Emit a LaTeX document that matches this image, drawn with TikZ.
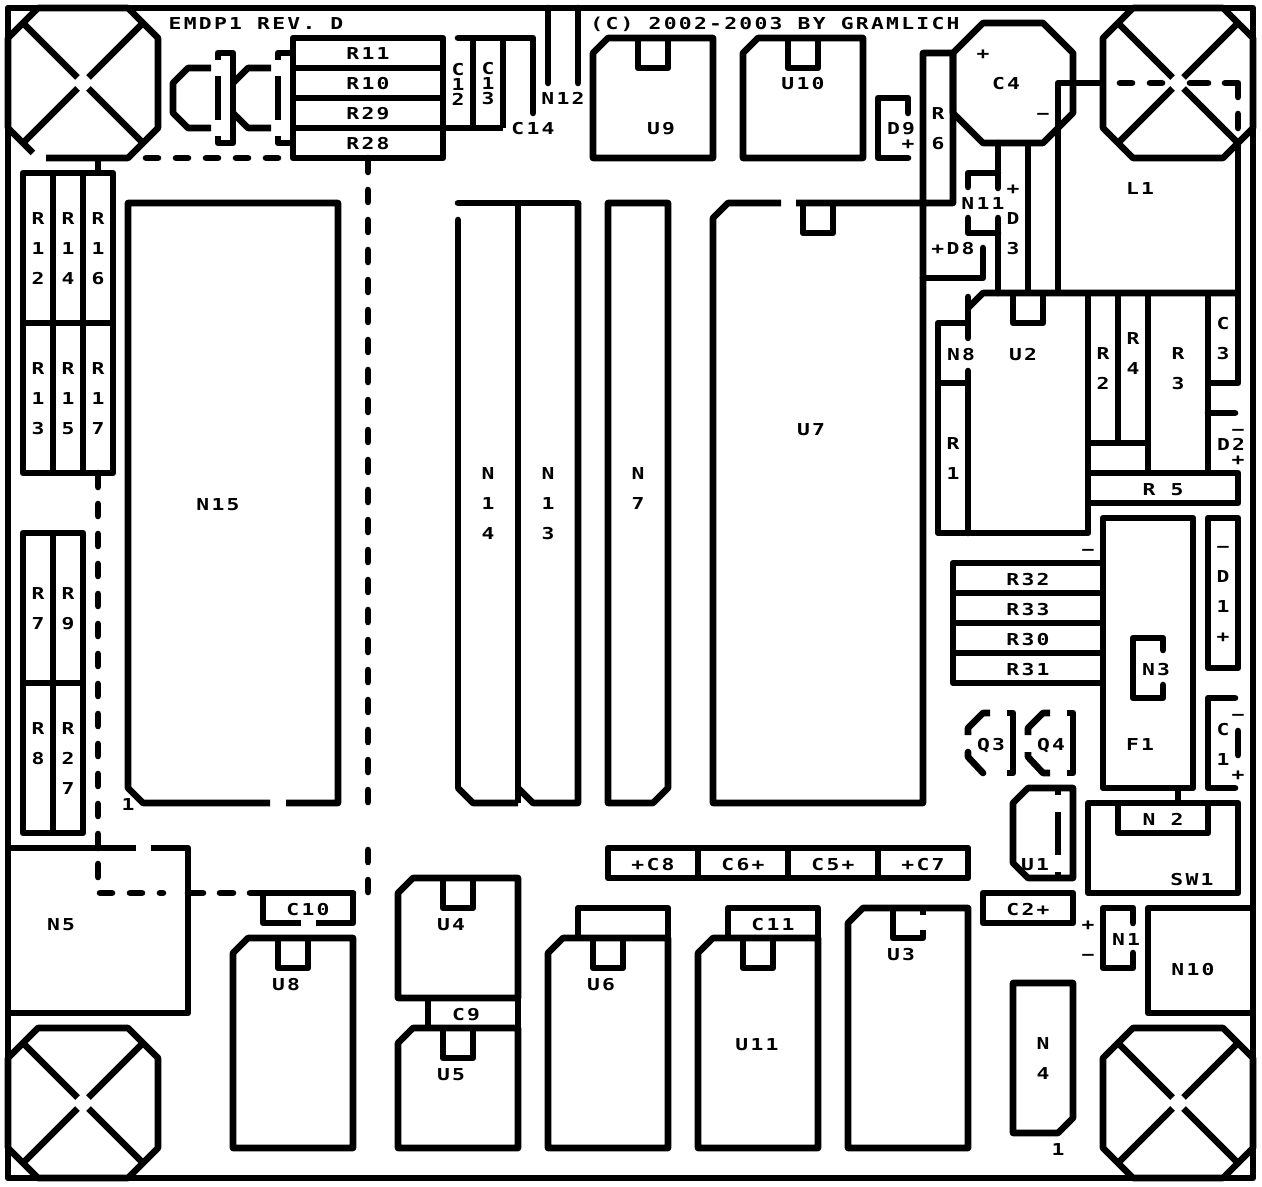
\documentclass[tikz,border=0pt]{standalone}
\usepackage{fontspec}
\newfontfamily\pcbfont[FakeStretch=1.3,LetterSpace=14]{DejaVu Sans Mono}
\tikzset{
  trace/.style={line width=3.3pt,line join=round},
  stub/.style={trace,line cap=round},
  dashline/.style={stub,dash pattern=on 6pt off 9pt},
  arm/.style={line width=3.3pt},
  lbl/.style={inner sep=0pt,yshift=-0.5pt,text height=6pt,text depth=0pt,font=\pcbfont\bfseries\fontsize{8.2}{15}\selectfont},
  lblv/.style={inner sep=0pt,yshift=-0.5pt,align=center,font=\pcbfont\bfseries\fontsize{8.2}{15}\selectfont},
  lblt/.style={inner sep=0pt,yshift=-0.5pt,align=center,font=\pcbfont\bfseries\fontsize{8.2}{7.5}\selectfont}
}
\begin{document}
\begin{tikzpicture}[x=0.5pt,y=-0.5pt]
\useasboundingbox (0,0) rectangle (1262,1187);
% board
\draw[trace] (8,8) rectangle (1253,1178);
% mounting holes
\foreach \cx/\cy in {83/83,1178/83,83/1103,1178/1103}
  \foreach \sx/\sy in {1/1,1/-1,-1/1,-1/-1}
    \draw[arm] ({\cx+60*\sx},{\cy+60*\sy}) -- ({\cx+5.5*\sx},{\cy+5.5*\sy});
\foreach \cx/\cy in {1178/83,83/1103,1178/1103}
  \draw[trace] (\cx-45,\cy-75) -- (\cx+45,\cy-75) -- (\cx+75,\cy-45) -- (\cx+75,\cy+45)
    -- (\cx+45,\cy+75) -- (\cx-45,\cy+75) -- (\cx-75,\cy+45) -- (\cx-75,\cy-45) -- cycle;
\draw[trace] (33,153) -- (8,128) -- (8,38) -- (38,8) -- (128,8) -- (158,38) -- (158,128) -- (128,158) -- (46,158);
% LED
\draw[trace] (211,68) -- (188,68) -- (173,83) -- (173,113) -- (188,128) -- (211,128);
\draw[trace] (218,60) -- (218,53) -- (233,53) -- (233,143) -- (218,143) -- (218,136);
\draw[trace] (218,76) -- (218,120);
\draw[trace] (233,83) -- (248,68) -- (271,68);
\draw[trace] (233,113) -- (248,128) -- (271,128);
\draw[trace] (278,60) -- (278,53) -- (293,53);
\draw[trace] (278,76) -- (278,120);
\draw[trace] (278,136) -- (278,143) -- (293,143);
% top row
\draw[trace] (293,38) rectangle (443,158);
\draw[trace] (293,68) -- (443,68);
\draw[trace] (293,98) -- (443,98);
\draw[trace] (293,128) -- (503,128);
\draw[stub] (533,113) -- (533,38) -- (458,38);
\draw[trace] (473,38) -- (473,128);
\draw[trace] (503,38) -- (503,128);
\draw[stub] (548,8) -- (548,83);
\draw[stub] (578,8) -- (578,83);
\draw[trace] (593,53) -- (608,38) -- (713,38) -- (713,158) -- (593,158) -- cycle;
\draw[trace] (638,38) -- (638,68) -- (668,68) -- (668,38);
\draw[trace] (743,53) -- (758,38) -- (863,38) -- (863,158) -- (743,158) -- cycle;
\draw[trace] (788,38) -- (788,68) -- (818,68) -- (818,38);
\draw[stub] (908,113) -- (908,98) -- (878,98) -- (878,158) -- (908,158);
% dashed outlines
\draw[dashline] (146,158) -- (278,158);
\draw[stub] (368,158) -- (368,172);
\draw[dashline] (368,190) -- (368,802);
\draw[dashline] (368,850) -- (368,892);
\draw[stub] (98,473) -- (98,487);
\draw[dashline] (98,504) -- (98,817);
\draw[stub] (98,834) -- (98,848);
\draw[stub] (98,864) -- (98,877);
\draw[dashline] (100,893) -- (163,893);
\draw[stub] (188,893) -- (203,893);
\draw[stub] (220,893) -- (233,893);
\draw[stub] (250,893) -- (353,893);
% resistor blocks
\draw[trace] (98,158) -- (98,173);
\draw[trace] (23,173) rectangle (113,473);
\draw[trace] (53,173) -- (53,473);
\draw[trace] (83,173) -- (83,473);
\draw[trace] (23,323) -- (113,323);
\draw[trace] (23,533) rectangle (83,833);
\draw[trace] (53,533) -- (53,833);
\draw[trace] (23,683) -- (83,683);
% connectors
\draw[trace] (270,803) -- (143,803) -- (128,788) -- (128,203) -- (338,203) -- (338,803) -- (286,803);
\draw[stub] (458,203) -- (578,203);
\draw[stub] (458,220) -- (458,788);
\draw[trace] (458,788) -- (473,803) -- (518,803);
\draw[trace] (518,203) -- (518,803);
\draw[trace] (518,788) -- (533,803) -- (578,803) -- (578,203);
\draw[trace] (608,203) -- (668,203) -- (668,788) -- (653,803) -- (608,803) -- cycle;
% U7 and power section
\draw[trace] (781,203) -- (728,203) -- (713,218) -- (713,803) -- (923,803) -- (923,53) -- (953,53) -- (953,203) -- (796,203);
\draw[trace] (803,203) -- (803,233) -- (833,233) -- (833,203);
\draw[trace] (983,23) -- (1043,23) -- (1073,53) -- (1073,113) -- (1043,143) -- (983,143) -- (953,113) -- (953,53) -- cycle;
\draw[stub] (923,278) -- (983,278) -- (983,248);
\draw[stub] (968,187) -- (968,173) -- (998,173);
\draw[stub] (998,143) -- (998,188);
\draw[stub] (968,218) -- (968,233) -- (998,233);
\draw[stub] (998,218) -- (998,293);
\draw[trace] (1028,143) -- (1028,293);
\draw[trace] (1058,293) -- (1058,83) -- (1103,83);
\draw[dashline] (1120,83) -- (1163,83);
\draw[stub] (1190,83) -- (1208,83);
\draw[stub] (1225,83) -- (1238,83) -- (1238,97);
\draw[stub] (1238,114) -- (1238,128);
\draw[trace] (1238,143) -- (1238,383) -- (1208,383);
\draw[trace] (968,308) -- (983,293) -- (1238,293);
\draw[stub] (968,297) -- (968,338);
\draw[trace] (968,323) -- (938,323) -- (938,533) -- (1088,533) -- (1088,293);
\draw[stub] (968,371) -- (968,533);
\draw[trace] (938,383) -- (968,383);
\draw[trace] (1013,293) -- (1013,323) -- (1043,323) -- (1043,293);
\draw[trace] (1118,293) -- (1118,443);
\draw[trace] (1088,443) -- (1148,443);
\draw[trace] (1148,293) -- (1148,473);
\draw[trace] (1208,293) -- (1208,473);
\draw[stub] (1208,413) -- (1235,413);
\draw[trace] (1088,473) -- (1238,473) -- (1238,503) -- (1088,503);
% fuse and right column
\draw[trace] (1103,518) rectangle (1193,788);
\draw[trace] (1208,518) rectangle (1238,668);
\draw[trace] (953,563) rectangle (1103,683);
\draw[trace] (953,593) -- (1103,593);
\draw[trace] (953,623) -- (1103,623);
\draw[trace] (953,653) -- (1103,653);
\draw[stub] (1163,650) -- (1163,638) -- (1133,638) -- (1133,698) -- (1163,698) -- (1163,685);
\draw[stub] (1235,698) -- (1208,698) -- (1208,788) -- (1235,788);
\draw[stub] (1238,731) -- (1238,755);
% transistors
\draw[trace] (990,713) -- (983,713) -- (968,728) -- (968,735);
\draw[stub] (968,752) -- (968,757) -- (983,773);
\draw[trace] (1007,713) -- (1013,713) -- (1013,773) -- (1007,773);
\draw[trace] (1050,713) -- (1043,713) -- (1028,728) -- (1028,735);
\draw[trace] (1028,752) -- (1028,757) -- (1043,773) -- (1050,773);
\draw[trace] (1067,713) -- (1073,713) -- (1073,773) -- (1067,773);
\draw[trace] (1073,788) -- (1028,788) -- (1013,803) -- (1013,863) -- (1028,878) -- (1073,878) -- cycle;
\draw[trace] (1058,788) -- (1058,795);
\draw[trace] (1058,812) -- (1058,855);
\draw[trace] (1058,872) -- (1058,878);
% switch
\draw[trace] (1178,788) -- (1178,803);
\draw[trace] (1088,803) rectangle (1238,893);
\draw[trace] (1118,803) -- (1118,833) -- (1208,833) -- (1208,803);
\draw[trace] (983,893) rectangle (1073,923);
\draw[stub] (1133,923) -- (1133,908) -- (1103,908) -- (1103,968) -- (1133,968) -- (1133,953);
\draw[trace] (1253,908) -- (1148,908) -- (1148,1013) -- (1253,1013);
\draw[trace] (1073,983) -- (1013,983) -- (1013,1133) -- (1058,1133) -- (1073,1118) -- cycle;
% left bottom
\draw[trace] (8,848) -- (136,848);
\draw[trace] (151,848) -- (188,848) -- (188,1013) -- (8,1013);
\draw[trace] (301,923) -- (263,923) -- (263,893);
\draw[trace] (316,923) -- (353,923) -- (353,893);
% bottom row
\draw[trace] (233,953) -- (248,938) -- (353,938) -- (353,1148) -- (233,1148) -- cycle;
\draw[trace] (278,938) -- (278,968) -- (308,968) -- (308,938);
\draw[trace] (398,893) -- (413,878) -- (518,878) -- (518,998) -- (398,998) -- cycle;
\draw[trace] (443,878) -- (443,908) -- (473,908) -- (473,878);
\draw[trace] (428,998) -- (428,1028);
\draw[trace] (518,998) -- (518,1028);
\draw[trace] (398,1043) -- (413,1028) -- (518,1028) -- (518,1148) -- (398,1148) -- cycle;
\draw[trace] (443,1028) -- (443,1058) -- (473,1058) -- (473,1028);
\draw[trace] (548,953) -- (563,938) -- (668,938) -- (668,1148) -- (548,1148) -- cycle;
\draw[trace] (593,938) -- (593,968) -- (623,968) -- (623,938);
\draw[trace] (578,938) -- (578,908) -- (668,908) -- (668,938);
\draw[trace] (698,953) -- (713,938) -- (818,938) -- (818,1148) -- (698,1148) -- cycle;
\draw[trace] (743,938) -- (743,968) -- (773,968) -- (773,938);
\draw[trace] (728,938) -- (728,908) -- (818,908) -- (818,938);
\draw[trace] (848,923) -- (863,908) -- (968,908) -- (968,1148) -- (848,1148) -- cycle;
\draw[trace] (893,908) -- (893,938) -- (923,938) -- (923,930);
\draw[trace] (923,908) -- (923,915);
\draw[trace] (608,848) rectangle (968,878);
\draw[trace] (698,848) -- (698,878);
\draw[trace] (788,848) -- (788,878);
\draw[trace] (878,848) -- (878,878);
% labels
\node[lbl] (title) at (256,23) {EMDP1 REV. D};
\node[lbl] (copy) at (775,23) {(C) 2002-2003 BY GRAMLICH};
\node[lbl] (r11) at (368,53) {R11};
\node[lbl] (r10) at (368,83) {R10};
\node[lbl] (r29) at (368,113) {R29};
\node[lbl] (r28) at (368,143) {R28};
\node[lblt] (c12) at (458,83) {C\\1\\2};
\node[lblt] (c13) at (488,83) {C\\1\\3};
\node[lbl] (c14) at (533,128) {C14};
\node[lbl] (n12) at (563,98) {N12};
\node[lbl] (u9) at (661,128) {U9};
\node[lbl] (u10) at (803,83) {U10};
\node[lbl] (d9) at (901,128) {D9};
\node[lbl] (d9p) at (908,143) {+};
\node[lblv] (r6) at (938,128) {R\\6};
\node[lbl] (c4) at (1006,83) {C4};
\node[lbl] (c4p) at (983,53) {+};
\node[lbl] (c4m) at (1043,113) {−};
\node[lbl] (l1) at (1140,188) {L1};
\node[lbl] (n11) at (983,203) {N11};
\node[lbl] (d3p) at (1013,188) {+};
\node[lblv] (d3) at (1013,233) {D\\3};
\node[lbl] (d8) at (953,248) {+D8};
\node[lblv] (r12) at (38,248) {R\\1\\2};
\node[lblv] (r14) at (68,248) {R\\1\\4};
\node[lblv] (r16) at (98,248) {R\\1\\6};
\node[lblv] (r13) at (38,398) {R\\1\\3};
\node[lblv] (r15) at (68,398) {R\\1\\5};
\node[lblv] (r17) at (98,398) {R\\1\\7};
\node[lblv] (r7) at (38,608) {R\\7};
\node[lblv] (r9) at (68,608) {R\\9};
\node[lblv] (r8) at (38,743) {R\\8};
\node[lblv] (r27) at (68,758) {R\\2\\7};
\node[lbl] (n15) at (218,503) {N15};
\node[lbl] (pin1a) at (128,803) {1};
\node[lblv] (n14) at (488,503) {N\\1\\4};
\node[lblv] (n13) at (548,503) {N\\1\\3};
\node[lblv] (n7) at (638,488) {N\\7};
\node[lbl] (u7) at (811,428) {U7};
\node[lbl] (n8) at (961,353) {N8};
\node[lbl] (u2) at (1023,353) {U2};
\node[lblv] (r1) at (953,458) {R\\1};
\node[lblv] (r2) at (1103,368) {R\\2};
\node[lblv] (r4) at (1133,353) {R\\4};
\node[lblv] (r3) at (1178,368) {R\\3};
\node[lblv] (c3) at (1223,338) {C\\3};
\node[lbl] (d2m) at (1238,428) {−};
\node[lbl] (d2) at (1231,443) {D2};
\node[lbl] (d2p) at (1238,458) {+};
\node[lbl] (r5) at (1163,488) {R 5};
\node[lbl] (f1m) at (1088,548) {−};
\node[lblv] (d1) at (1223,593) {−\\D\\1\\+};
\node[lbl] (r32) at (1028,578) {R32};
\node[lbl] (r33) at (1028,608) {R33};
\node[lbl] (r30) at (1028,638) {R30};
\node[lbl] (r31) at (1028,668) {R31};
\node[lbl] (n3) at (1156,668) {N3};
\node[lbl] (f1) at (1140,743) {F1};
\node[lbl] (c1m) at (1238,713) {−};
\node[lblv] (c1) at (1223,743) {C\\1};
\node[lbl] (c1p) at (1238,773) {+};
\node[lbl] (q3) at (991,743) {Q3};
\node[lbl] (q4) at (1051,743) {Q4};
\node[lbl] (u1) at (1035,863) {U1};
\node[lbl] (n2) at (1163,818) {N 2};
\node[lbl] (sw1) at (1192,878) {SW1};
\node[lbl] (c2) at (1028,908) {C2+};
\node[lbl] (n1p) at (1088,923) {+};
\node[lbl] (n1m) at (1088,953) {−};
\node[lbl] (n1) at (1126,938) {N1};
\node[lbl] (n10) at (1193,968) {N10};
\node[lblv] (n4) at (1043,1058) {N\\4};
\node[lbl] (pin1b) at (1058,1148) {1};
\node[lbl] (n5) at (61,923) {N5};
\node[lbl] (c10) at (308,908) {C10};
\node[lbl] (u8) at (286,983) {U8};
\node[lbl] (u4) at (451,923) {U4};
\node[lbl] (c9) at (466,1013) {C9};
\node[lbl] (u5) at (451,1073) {U5};
\node[lbl] (u6) at (601,983) {U6};
\node[lbl] (c11) at (773,923) {C11};
\node[lbl] (u11) at (757,1043) {U11};
\node[lbl] (u3) at (901,953) {U3};
\node[lbl] (c8) at (653,863) {+C8};
\node[lbl] (c6) at (743,863) {C6+};
\node[lbl] (c5) at (833,863) {C5+};
\node[lbl] (c7) at (923,863) {+C7};
\end{tikzpicture}
\end{document}
